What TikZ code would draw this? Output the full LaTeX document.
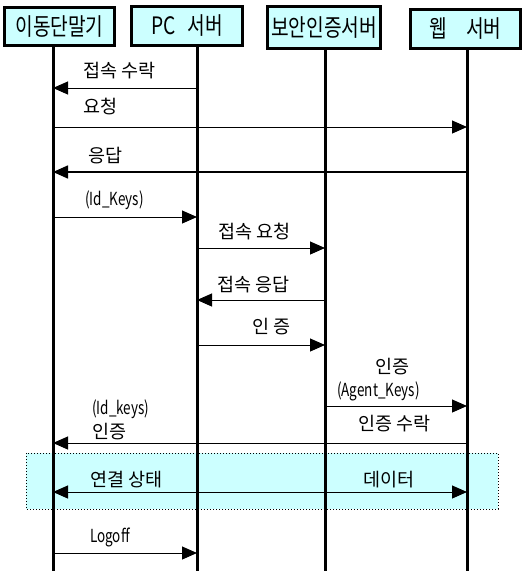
\documentclass[tikz,border=0pt]{standalone}
\usepackage{fontspec}
\setmainfont{Noto Sans CJK KR}
\newfontfamily\narrowfont[FakeStretch=0.75]{Noto Sans CJK KR}
\newfontfamily\headfont[FakeStretch=0.8]{Noto Sans CJK KR}
\usetikzlibrary{arrows.meta}
\definecolor{lcyan}{HTML}{CCFFFF}

\tikzstyle{head} = [fill=lcyan, draw=black, line width=3pt, inner sep=0pt, font=\headfont\fontsize{24}{24}\selectfont]
\tikzstyle{life} = [line width=3pt]
\tikzstyle{msg}  = [-{Triangle[length=15pt,width=13pt]}, line width=1pt]
\tikzstyle{lbl}  = [anchor=base west, inner sep=0pt, font=\fontsize{18.5}{18.5}\selectfont]
\tikzstyle{lat}  = [lbl, font=\narrowfont\fontsize{18}{18}\selectfont]
\tikzstyle{band} = [fill=lcyan, draw=black, dotted, line width=1pt]
\def\msg#1#2#3{ \draw[msg] (#1 |- 0,#3) -- (#2 |- 0,#3); }

\begin{document}
\begin{tikzpicture}[x=1pt, y=-1pt]
    \useasboundingbox (0,0) rectangle (526,571);
    % connection band
    \draw[band] (26,453) rectangle (498,509);
    % heads
    \node[head, minimum width=110pt, minimum height=38pt] (mobbox) at (59.5,26.5) {이동단말기};
    \node[head, minimum width=111pt, minimum height=39pt] (pcbox)  at (187,26)    {PC\hspace{0.5em}서버};
    \node[head, minimum width=113pt, minimum height=42pt] (secbox) at (324,27.5)  {보안인증서버};
    \node[head, minimum width=110pt, minimum height=39pt] (webbox) at (465.5,29)  {웹\hspace{0.8em}서버};
    \coordinate (mob) at (53,47);
    \coordinate (pc)  at (197,47);
    \coordinate (sec) at (325,49);
    \coordinate (web) at (467,50);
    \foreach \n in {mob, pc, sec, web}
      \draw[life] (\n) -- (\n |- 0,571);
    % messages
    \msg{pc}{mob}{88}
    \msg{mob}{web}{127}
    \draw[msg, line width=1.5pt] (web |- 0,172) -- (mob |- 0,172);
    \msg{mob}{pc}{217}
    \msg{pc}{sec}{248}
    \msg{sec}{pc}{300}
    \msg{pc}{sec}{345}
    \msg{sec}{web}{406}
    \msg{web}{mob}{443}
    \draw[msg, {Triangle[length=15pt,width=13pt]}-{Triangle[length=15pt,width=13pt]}] (mob |- 0,492) -- (web |- 0,492);
    \msg{mob}{pc}{553}
    % labels
    \node[lbl] (l1)  at (83,77)   {접속 수락};
    \node[lbl] (l2)  at (83,113)  {요청};
    \node[lbl] (l3)  at (88,162)  {응답};
    \node[lat] (l4)  at (85,205)  {(Id\_Keys)};
    \node[lbl] (l5)  at (218,238) {접속 요청};
    \node[lbl] (l6)  at (217,291) {접속 응답};
    \node[lbl] (l7)  at (252,333) {인 증};
    \node[lbl] (l8)  at (375,373) {인증};
    \node[lat] (l9)  at (337,396) {(Agent\_Keys)};
    \node[lat] (l10) at (92,414)  {(Id\_keys)};
    \node[lbl] (l11) at (92,438)  {인증};
    \node[lbl] (l12) at (358,430) {인증 수락};
    \node[lbl] (l13) at (90,486)  {연결 상태};
    \node[lbl] (l14) at (363,486) {데이터};
    \node[lat] (l15) at (90,542)  {Logoff};
\end{tikzpicture}
\end{document}
